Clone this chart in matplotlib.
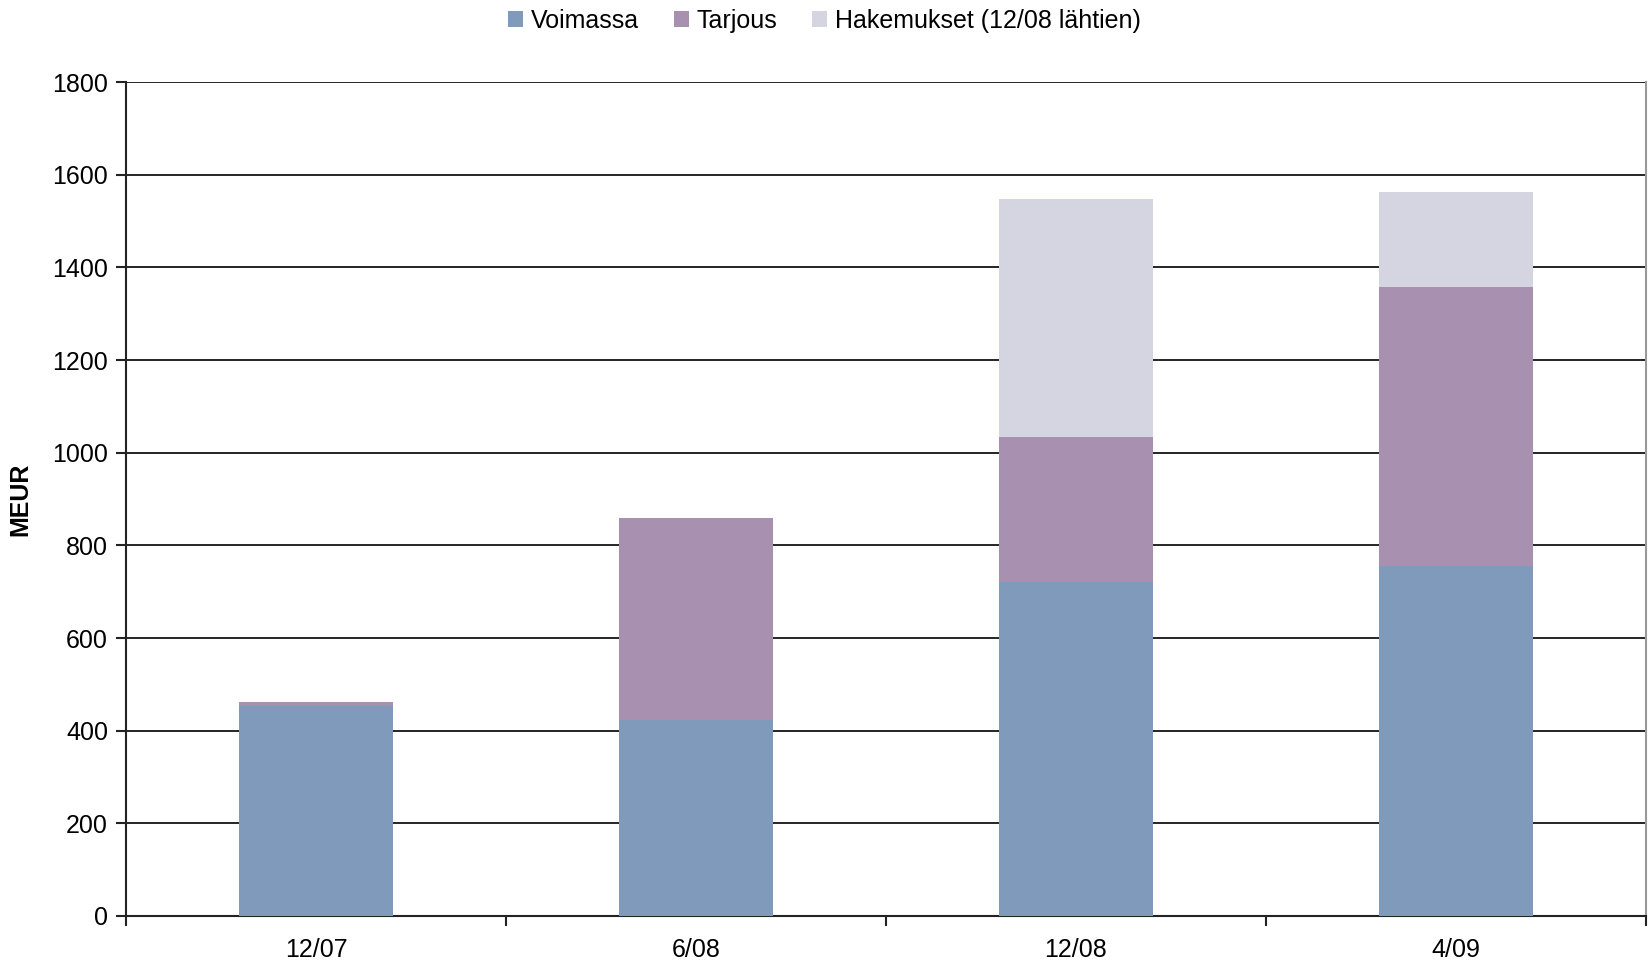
import numpy as np
import matplotlib.pyplot as plt

plt.rcParams['font.family'] = ['Liberation Sans', 'DejaVu Sans']

categories = ['12/07', '6/08', '12/08', '4/09']
voimassa = [453, 423, 720, 756]
tarjous = [9, 435, 313, 602]
hakemukset = [0, 0, 515, 205]

series_names = ['Voimassa', 'Tarjous', 'Hakemukset (12/08 lähtien)']
colors = ['#7f9aba', '#a891b0', '#d5d5e2']

fig = plt.figure(figsize=(16.49, 9.66), dpi=100)
ax = fig.add_axes([0.0764, 0.0518, 0.9216, 0.8632])

x = np.arange(len(categories))
width = 0.405
bottom = np.zeros(len(categories))
for vals, name, col in zip([voimassa, tarjous, hakemukset], series_names, colors):
    ax.bar(x, vals, width, bottom=bottom, color=col, label=name, zorder=3)
    bottom += np.array(vals)

ax.set_ylim(0, 1800)
ax.set_yticks(np.arange(0, 1801, 200))
ax.set_xlim(-0.5, len(categories) - 0.5)
ax.set_xticks(x)
ax.set_xticklabels(categories)
ax.set_xticks(np.arange(-0.5, len(categories)), minor=True)
ax.tick_params(axis='x', which='major', length=0, pad=16, labelsize=18)
ax.tick_params(axis='x', which='minor', length=7, width=1.5, direction='out', color='#222222')
ax.tick_params(axis='y', length=7, width=1.5, direction='out', color='#222222', labelsize=18, pad=6)

ax.grid(axis='y', color='black', linewidth=1.2, zorder=1)
ax.set_axisbelow(True)
ax.spines['top'].set_visible(False)
ax.spines['right'].set_color('#999999')
ax.spines['right'].set_linewidth(1.5)
for s in ['left', 'bottom']:
    ax.spines[s].set_color('#222222')
    ax.spines[s].set_linewidth(1.5)

ax.set_ylabel('MEUR', fontsize=18, fontweight='bold', labelpad=14)

fig.legend(loc='upper center', bbox_to_anchor=(0.5, 1.014), ncol=3, frameon=False,
           fontsize=18, handlelength=0.6, handleheight=0.6, handletextpad=0.3,
           columnspacing=1.4)

fig.savefig('out.png', dpi=100)
